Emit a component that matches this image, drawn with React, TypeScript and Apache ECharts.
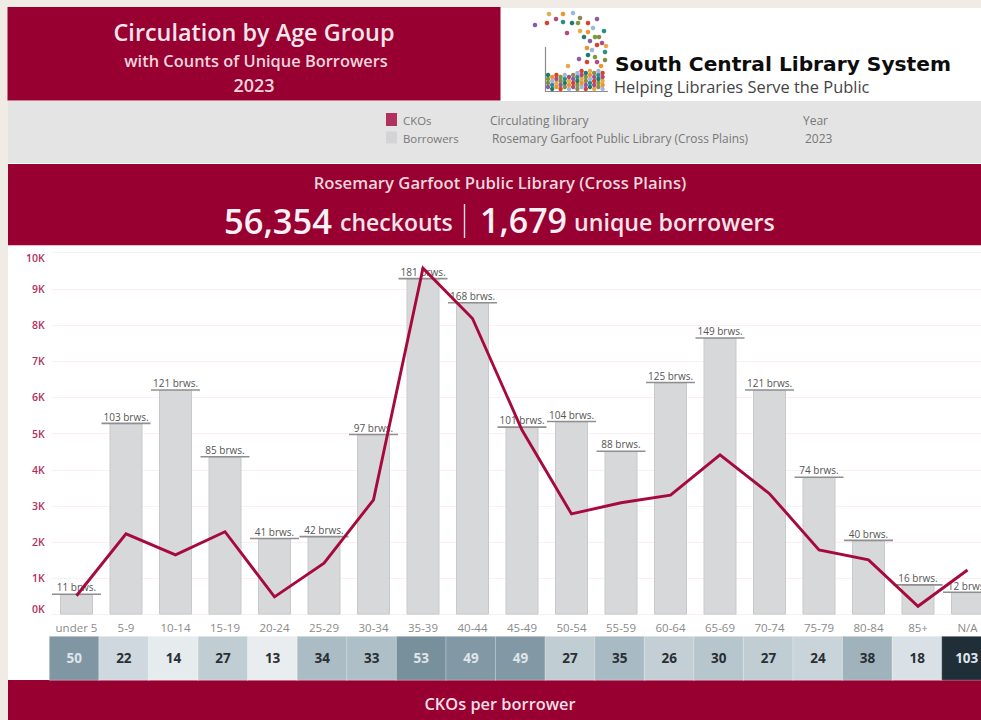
import React, { useEffect, useRef } from "react";
import * as echarts from "echarts";

const categories = ["under 5","5-9","10-14","15-19","20-24","25-29","30-34","35-39","40-44","45-49","50-54","55-59","60-64","65-69","70-74","75-79","80-84","85+","N/A"];
const borrowers = [11,103,121,85,41,42,97,181,168,101,104,88,125,149,121,74,40,16,12];
const checkouts = [520,2230,1650,2290,490,1420,3170,9570,8180,5100,2780,3090,3300,4410,3340,1785,1510,230,1232];
const ckosPerBorrower = [50,22,14,27,13,34,33,53,49,49,27,35,26,30,27,24,38,18,103];
const yTicks = [0,1000,2000,3000,4000,5000,6000,7000,8000,9000,10000];

const CRIMSON = "#970030";
const FONT = '"Open Sans", sans-serif';

const scatterDots = [[535,25],[547,23],[556,19],[549,14],[563,14],[573,13],[563,22],[572,23],[578,23],[580,18],[597,19],[588,23],[567,33],[580,31],[588,32],[593,28],[604,31],[584,37],[595,37],[599,37],[590,41],[597,45],[602,43],[606,46],[587,48],[592,50],[605,52],[588,55],[595,57],[605,60],[579,59],[587,62],[597,62],[568,66],[601,66]];
const dotColors = ["#8e5aa8","#1f7a70","#f0922e","#d9412b","#7d9a3d","#9db7e0","#b24a80","#8a8a50","#2a8c86","#e8a94a"];

function logoDots() {
  const out: any[] = [];
  scatterDots.forEach((p, i) => {
    out.push({ type: "circle", z: 1, shape: { cx: p[0], cy: p[1], r: 2.3 }, style: { fill: dotColors[(i * 3) % dotColors.length] } });
  });
  let k = 0;
  let col = 0;
  for (let x = 548; x <= 606; x += 4.2) {
    col += 1;
    const top = x < 565 ? 74 : x < 580 ? 76 - (x - 565) * 0.3 : 70;
    for (let y = 89 - (col % 2) * 2; y >= top; y -= 4) {
      k += 1;
      out.push({ type: "circle", z: 1, shape: { cx: x, cy: y, r: 2.2 }, style: { fill: dotColors[(k * 7 + col * 3) % dotColors.length] } });
    }
  }
  return out;
}

function txt(x: number, y: number, text: string, font: string, fill: string, align = "center") {
  return { type: "text", z: 5, x, y, style: { text, font, fill, align, textAlign: align, verticalAlign: "middle", textVerticalAlign: "middle" } };
}
function rect(x: number, y: number, width: number, height: number, fill: string, z = -10) {
  return { type: "rect", z, shape: { x, y, width, height }, style: { fill } };
}

export default function App() {
  const ref = useRef<HTMLDivElement>(null);
  useEffect(() => {
    const chart = echarts.init(ref.current!, undefined, { renderer: "svg" });
    chart.setOption({
      animation: false,
      backgroundColor: "#f0ece5",
      grid: [
        { left: 51.75, top: 252.6, width: 940.5, height: 362, containLabel: false },
        { left: 49.5, top: 636.5, width: 942, height: 43.5 },
      ],
      xAxis: [
        {
          type: "category", gridIndex: 0, data: categories,
          axisLine: { show: false }, axisTick: { show: false }, splitLine: { show: false },
          axisLabel: { interval: 0, color: "#8a8a8a", fontFamily: FONT, fontSize: 11.5, margin: 7 },
        },
        { type: "category", gridIndex: 1, data: categories, show: false },
      ],
      yAxis: [
        {
          type: "value", gridIndex: 0, min: yTicks[0], max: yTicks[yTicks.length - 1], interval: 1000,
          axisLine: { show: false }, axisTick: { show: false },
          splitLine: { show: true, lineStyle: { color: "#fbeff3", width: 1 } },
          axisLabel: {
            color: "#b03060", fontFamily: FONT, fontSize: 10.5, fontWeight: 600, margin: 7,
            verticalAlignMinLabel: "bottom", verticalAlignMaxLabel: "top",
            formatter: (v: number) => `${v / 1000}K`,
          },
        },
        { type: "value", gridIndex: 0, min: 0, max: 195, show: false, splitLine: { show: false } },
        { type: "category", gridIndex: 1, data: [""], show: false },
      ],
      visualMap: {
        show: false, seriesIndex: 3, dimension: 2, min: 13, max: 103,
        inRange: { color: ["#e9edf0", "#a7b9c2", "#6a8391", "#435a68", "#202e38"] },
      },
      series: [
        {
          name: "Borrowers", type: "bar", xAxisIndex: 0, yAxisIndex: 1, data: borrowers, barWidth: 33, z: 2,
          itemStyle: { color: "#d7d8da", borderColor: "#c8c9cb", borderWidth: 1 },
        },
        {
          name: "Borrowers label", type: "scatter", xAxisIndex: 0, yAxisIndex: 1, data: borrowers, z: 3,
          symbol: "rect", symbolSize: [49, 1.6],
          itemStyle: { color: "#8f8f8f", opacity: 1 },
          label: {
            show: true, position: "top", distance: 1, color: "#555", fontFamily: FONT, fontSize: 10,
            formatter: (p: any) => `${p.value} brws.`,
          },
        },
        {
          name: "CKOs", type: "line", xAxisIndex: 0, yAxisIndex: 0, data: checkouts, z: 6,
          symbol: "none", lineStyle: { color: "#a60a3c", width: 2.9, join: "miter" },
        },
        {
          name: "CKOs per borrower", type: "heatmap", xAxisIndex: 1, yAxisIndex: 2, z: 2,
          data: ckosPerBorrower.map((v, i) => ({
            value: [i, 0, v],
            label: { color: v >= 49 ? "#dfe5e9" : "#2a2f33" },
          })),
          itemStyle: { borderColor: "rgba(255,255,255,0.55)", borderWidth: 0.6 },
          label: { show: true, fontFamily: FONT, fontSize: 13.5, fontWeight: 700, formatter: (p: any) => `${p.value[2]}` },
        },
      ],
      graphic: {
        elements: [
          rect(8, 8, 973, 712, "#ffffff"),
          rect(7.5, 7, 493, 93.5, CRIMSON),
          rect(8, 101, 973, 62, "#e4e4e4"),
          rect(8, 164, 973, 81, CRIMSON),
          rect(8, 245, 973, 1, "#eeb9c9"),
          rect(8, 680, 973, 40, CRIMSON),

          txt(254, 32, "Circulation by Age Group", `600 23.4px ${FONT}`, "#f6e6eb"),
          txt(256, 60, "with Counts of Unique Borrowers", `600 16.4px ${FONT}`, "#efd5dc"),
          txt(254, 85, "2023", `600 18px ${FONT}`, "#efd5dc"),

          { type: "polyline", z: 1, shape: { points: [[545.5, 47], [545.5, 91.5], [608, 91.5]] }, style: { stroke: "#8c8c8c", fill: "none", lineWidth: 1.2 } },
          ...logoDots(),
          txt(615, 64, "South Central Library System", '700 20.2px "DejaVu Sans", sans-serif', "#0d0d0d", "left"),
          txt(614, 86, "Helping Libraries Serve the Public", `400 16.4px ${FONT}`, "#444444", "left"),

          rect(386, 113, 11, 13, "#b03060", 1),
          rect(386, 131.5, 11, 12, "#d4d4d6", 1),
          txt(403, 120, "CKOs", `400 11.4px ${FONT}`, "#777", "left"),
          txt(403, 138, "Borrowers", `400 11.4px ${FONT}`, "#777", "left"),
          txt(490, 120, "Circulating library", `400 12px ${FONT}`, "#777", "left"),
          txt(492, 138, "Rosemary Garfoot Public Library (Cross Plains)", `400 11.9px ${FONT}`, "#777", "left"),
          txt(803, 120, "Year", `400 12px ${FONT}`, "#777", "left"),
          txt(805, 138, "2023", `400 12px ${FONT}`, "#777", "left"),

          txt(500, 182, "Rosemary Garfoot Public Library (Cross Plains)", `600 16.7px ${FONT}`, "#efd5dc"),
          txt(224, 220, "56,354", `600 34.5px ${FONT}`, "#fbf1f4", "left"),
          txt(340, 222, "checkouts", `600 23px ${FONT}`, "#f6e3e9", "left"),
          { type: "line", z: 5, shape: { x1: 464.5, y1: 204, x2: 464.5, y2: 238 }, style: { stroke: "#f0dbe1", lineWidth: 1.4 } },
          txt(480, 220, "1,679", `600 34px ${FONT}`, "#fbf1f4", "left"),
          txt(574, 222, "unique borrowers", `600 23.2px ${FONT}`, "#f6e3e9", "left"),

          txt(500, 703, "CKOs per borrower", `600 16.4px ${FONT}`, "#f3dfe5"),
        ],
      },
    });
    return () => chart.dispose();
  }, []);
  return (
    <div style={{ position: "absolute", left: 0, top: 0, width: 981, height: 720, overflow: "hidden" }}>
      <div ref={ref} style={{ width: 1000, height: 720 }} />
    </div>
  );
}
